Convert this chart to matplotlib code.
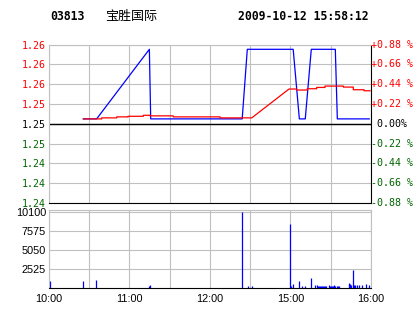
import matplotlib
matplotlib.use("Agg")
import matplotlib.pyplot as plt
from matplotlib.transforms import blended_transform_factory

# header
stock_code = "03813"
stock_name = "宝胜国际"
stamp = "2009-10-12 15:58:12"
prev_close = 1.25

# minutes since 10:00 (lunch break removed), price
price_t = [25.6, 35.5, 74.8, 75.8, 144.0, 147.8, 182.0, 186.6, 191.0, 195.5, 213.4, 214.9, 238.7]
price_v = [1.25069, 1.25069, 1.26036, 1.25069, 1.25069, 1.26036, 1.26036, 1.25069,
           1.25069, 1.26036, 1.26036, 1.25069, 1.25069]

# average price
avg_t = [25.6, 39.3, 39.3, 50.5, 50.5, 59.1, 59.1, 70.3, 70.3, 75.3, 75.3, 92.6, 92.6,
         127.5, 127.5, 151.1, 178.9, 184.6, 184.6, 192.5, 192.5, 199.5, 199.5, 205.7,
         205.7, 219.4, 219.4, 226.8, 226.8, 234.8, 234.8, 239.3]
avg_v = [1.25069, 1.25069, 1.25083, 1.25083, 1.25097, 1.25097, 1.25105, 1.25105, 1.25119,
         1.25119, 1.25111, 1.25111, 1.25097, 1.25097, 1.25083, 1.25083, 1.25484, 1.25484,
         1.25470, 1.25470, 1.25488, 1.25488, 1.25506, 1.25506, 1.25525, 1.25525, 1.25511,
         1.25511, 1.25474, 1.25474, 1.25460, 1.25460]

# volume
vol_t = [0.7, 25.6, 34.8, 74.8, 75.3, 144.1, 148.1, 151.1, 179.6, 180.4, 182.1, 186.6,
         188.8, 191.0, 195.5, 198.5, 200.0, 200.7, 201.5, 202.2, 203.0, 203.7, 204.5,
         205.2, 206.0, 206.7, 208.9, 209.7, 210.4, 211.2, 211.9, 212.6, 213.4, 214.4,
         215.6, 216.4, 223.8, 224.6, 225.3, 226.8, 227.6, 228.3, 229.8, 231.3, 233.5,
         236.5, 238.7]
vol_v = [906, 906, 1036, 260, 390, 10100, 260, 260, 8495, 260, 520, 906,
         260, 260, 1295, 390, 390, 260, 260, 260, 260, 260, 260,
         260, 260, 260, 390, 260, 260, 260, 260, 390, 260, 260,
         260, 260, 650, 520, 390, 2330, 390, 390, 390, 390, 390,
         520, 390]

pct_ticks = [0.88, 0.66, 0.44, 0.22, 0.0, -0.22, -0.44, -0.66, -0.88]
time_ticks = [0, 60, 120, 180, 240]
time_labels = ["10:00", "11:00", "12:00", "15:00", "16:00"]
vol_ticks = [2525, 5050, 7575, 10100]

W, H = 414, 314
grid_c = "#c0c0c0"
green = "#006400"
mono = "DejaVu Sans Mono"

fig = plt.figure(figsize=(W / 100, H / 100), dpi=100)

# main price panel
ax = fig.add_axes([49 / W, (H - 203) / H, 322 / W, (203 - 44.7) / H])
ax.plot(price_t, price_v, color="blue", lw=0.9)
ax.plot(avg_t, avg_v, color="red", lw=0.9)
ax.set_xlim(0, 240)
ax.set_ylim(prev_close * (1 - 0.0088), prev_close * (1 + 0.0088))
ax.set_xticks(range(0, 241, 30))
ax.set_xticklabels([])
tick_prices = [prev_close * (1 + p / 100) for p in pct_ticks]
ax.set_yticks(tick_prices)
ax.set_yticklabels(["%.2f" % v for v in tick_prices], family=mono, fontsize=7.2)
ax.tick_params(length=0, pad=2)
ax.grid(True, color=grid_c, lw=0.8)
ax.set_axisbelow(True)
ax.axhline(prev_close, color="black", lw=1)

trans = blended_transform_factory(ax.transAxes, ax.transData)
for p, v, lab in zip(pct_ticks, tick_prices, ax.get_yticklabels()):
    if p > 0:
        c, s = "red", "+%.2f %%" % p
    elif p < 0:
        c, s = green, "-%.2f %%" % -p
    else:
        c, s = "black", " 0.00%"
    lab.set_color(c)
    ax.text(1.0, v, s, transform=trans, ha="left", va="center", color=c,
            family=mono, fontsize=7.2, clip_on=False)

for side in ["left", "top"]:
    ax.spines[side].set_color(grid_c)
for side in ["right", "bottom"]:
    ax.spines[side].set_color("black")

# volume panel
ax2 = fig.add_axes([49 / W, (H - 288) / H, 322 / W, (288 - 210) / H])
ax2.vlines(vol_t, 0, vol_v, color="blue", lw=0.9)
ax2.set_xlim(0, 240)
ax2.set_ylim(0, 10300)
ax2.set_xticks(range(0, 241, 30))
ax2.set_xticklabels([time_labels[time_ticks.index(t)] if t in time_ticks else ""
                     for t in range(0, 241, 30)], family="Liberation Sans", fontsize=7.8)
ax2.set_yticks(vol_ticks)
ax2.set_yticklabels([str(v) for v in vol_ticks], family="Liberation Sans", fontsize=7.8)
ax2.tick_params(length=0, pad=2)
ax2.tick_params(axis="x", pad=4)
ax2.grid(True, color=grid_c, lw=0.8)
ax2.set_axisbelow(True)
for side in ["left", "top", "right"]:
    ax2.spines[side].set_color(grid_c)
ax2.spines["bottom"].set_color("black")

# header
fig.text(50 / W, 1 - 16.5 / H, stock_code, family=mono, weight="bold", fontsize=8.3,
         va="center", ha="left")
fig.text(105 / W, 1 - 16.5 / H, stock_name, family=["Noto Sans CJK SC", "DejaVu Sans"],
         fontsize=9.4, va="center", ha="left")
fig.text(238 / W, 1 - 16.5 / H, stamp, family=mono, weight="bold", fontsize=8.3,
         va="center", ha="left")

fig.savefig("out.png", dpi=100)
